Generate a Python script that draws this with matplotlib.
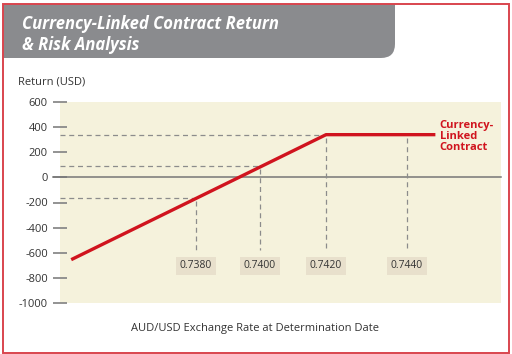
import matplotlib.pyplot as plt
import numpy as np
from matplotlib.patches import Rectangle, FancyBboxPatch

plt.rcParams['font.family'] = ['Open Sans', 'DejaVu Sans']

# contract payoff (exchange rate -> return in USD)
line_rates = [0.7341, 0.7420, 0.7447]
line_returns = [-655, 340, 340]

guide_rates = [0.7380, 0.7400, 0.7420, 0.7440]
guide_labels = ['0.7380', '0.7400', '0.7420', '0.7440']
y_ticks = [600, 400, 200, 0, -200, -400, -600, -800, -1000]

# the original chart is not drawn to scale, so use a piecewise linear axis
scale_pos = [0, 64, 130, 211]


def warp(x, xp, fp):
    x = np.asarray(x, dtype=float)
    lo = fp[0] + (x - xp[0]) * (fp[1] - fp[0]) / (xp[1] - xp[0])
    hi = fp[-1] + (x - xp[-1]) * (fp[-1] - fp[-2]) / (xp[-1] - xp[-2])
    mid = np.interp(x, xp, fp)
    return np.where(x < xp[0], lo, np.where(x > xp[-1], hi, mid))


red = '#d0141e'
beige = '#f5f2dc'
dash_col = '#8c8c8c'

fig = plt.figure(figsize=(5.12, 3.54), dpi=100)
W, H = 512, 354
ax = fig.add_axes([60 / W, 1 - 303 / H, 441 / W, 201 / H])
ax.set_xscale('function', functions=(lambda x: warp(x, guide_rates, scale_pos),
                                     lambda p: warp(p, scale_pos, guide_rates)))
ax.set_facecolor(beige)
ax.set_xlim(0.73375, 0.74632)
ax.set_ylim(-1000, 600)
for s in ax.spines.values():
    s.set_visible(False)
ax.set_xticks([])
ax.set_yticks(y_ticks)
ax.set_yticklabels([str(v) for v in y_ticks])
ax.tick_params(axis='y', direction='inout', length=9.5, width=1.3, color='#8a8a8a',
               labelsize=8, labelcolor='#333333', pad=4)

# zero line
ax.axhline(0, xmin=-7 / 441, xmax=1, color='#777777', lw=1.1, clip_on=False, zorder=2)

guide_returns = np.interp(guide_rates, line_rates, line_returns)
x0 = ax.get_xlim()[0]
dash = dict(color=dash_col, lw=0.9, dashes=(4, 3), zorder=2)
for i, (r, v) in enumerate(zip(guide_rates, guide_returns)):
    if i < 3:
        ax.plot([x0, r], [v, v], **dash)
    ax.plot([r, r], [v - 25, -580], **dash)
    ax.text(r, -705, guide_labels[i], ha='center', va='center', fontsize=7.5,
            color='#333333',
            bbox=dict(boxstyle='square,pad=0.35', fc='#e8e0cc', ec='none'))

ax.plot(line_rates, line_returns, color=red, lw=2.4, solid_capstyle='butt', zorder=3)
ax.annotate('Currency-\nLinked\nContract', (line_rates[-1], line_returns[-1]),
            xytext=(3, -1.5), textcoords='offset points', ha='left', va='center',
            fontsize=8, fontweight='bold', color=red, linespacing=1.0)

fig.text(18 / W, 1 - 82 / H, 'Return (USD)', fontsize=8, color='#333333',
         ha='left', va='center')
fig.text(255 / W, 1 - 328 / H, 'AUD/USD Exchange Rate at Determination Date',
         fontsize=8, color='#333333', ha='center', va='center')

# title banner and frame
frame = (2.5 / W, 1.5 / H)
border = Rectangle(frame, 506 / W, 349 / H, transform=fig.transFigure,
                   fill=False, ec='#d9454e', lw=1.4, zorder=10)
banner = FancyBboxPatch((-0.3, (H - 58) / 100), 3.95 + 0.3, 1.0,
                        boxstyle='round,pad=0,rounding_size=0.14',
                        transform=fig.dpi_scale_trans, fc='#8a8b8e', ec='none', zorder=5)
fig.patches.append(banner)
fig.patches.append(border)
banner.set_clip_path(Rectangle(frame, 506 / W, 349 / H, transform=fig.transFigure))
fig.text(22 / W, 1 - 24 / H, 'Currency-Linked Contract Return', fontsize=12,
         fontweight='bold', style='italic', color='white', ha='left', va='center', zorder=6)
fig.text(22 / W, 1 - 45 / H, '& Risk Analysis', fontsize=12,
         fontweight='bold', style='italic', color='white', ha='left', va='center', zorder=6)

fig.savefig('out.png', dpi=100)
